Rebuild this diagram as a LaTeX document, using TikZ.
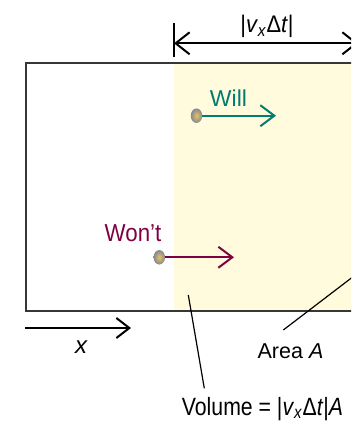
\documentclass[tikz,border=0pt]{standalone}
\usepackage{fontspec}
\setmainfont{Liberation Sans}
\newfontfamily\condA[FakeStretch=0.85]{Liberation Sans}
\newfontfamily\condB[FakeStretch=0.91]{Liberation Sans}
\usetikzlibrary{arrows.meta,shapes.geometric}
\definecolor{cream}{RGB}{255,251,220}
\definecolor{willc}{RGB}{0,124,112}
\definecolor{wontc}{RGB}{128,0,66}
\definecolor{edgec}{RGB}{55,55,55}
\definecolor{ballin}{RGB}{228,198,92}
\definecolor{ballout}{RGB}{135,135,150}
\tikzset{
  lab/.style={inner sep=0pt, anchor=base, font=\fontsize{21}{25}\selectfont},
  particle/.style={ellipse, minimum width=11.5pt, minimum height=14.5pt, inner sep=0pt, inner color=ballin, outer color=ballout},
  barb/.style={-{Straight Barb[length=14pt,width=21pt,line width=2pt]}},
  pointer/.style={line width=1.2pt, black},
}
\begin{document}
\begin{tikzpicture}[x=1pt,y=-1pt]
\clip (0,0) rectangle (351,422);
% slab
\fill[cream] (174,63.3) rectangle (365,310.7);
\draw[edgec, line width=1.6pt] (26,63.3) rectangle (365,310.7);
% dimension
\coordinate (dl) at (174,43.3);
\coordinate (dr) at (358,43.3);
\coordinate (tt) at (174,23);
\coordinate (tb) at (174,57);
\draw[line width=1.5pt] (tt) -- (tb);
\draw[line width=2pt, {Straight Barb[length=14pt,width=22pt,line width=2pt]}-{Straight Barb[length=14pt,width=22pt,line width=2pt]}] (dl) -- (dr);
\node[lab, font=\condB\fontsize{24}{28}\selectfont] (dim) at (267,33) {|\textit{v}\textsubscript{\textit{x}}Δ\textit{t}|};
% will particle
\node[particle] (wb) at (196.5,115.7) {};
\coordinate (wt) at (276,115.7);
\draw[willc, line width=2pt, barb] (wb.east) -- (wt);
\node[lab, text=willc, font=\fontsize{23}{27}\selectfont] (will) at (228.5,107) {Will};
% won't particle
\node[particle] (nb) at (159.3,257.3) {};
\coordinate (nt) at (234,257.3);
\draw[wontc, line width=2pt, barb] (nb.east) -- (nt);
\node[lab, text=wontc, font=\condB\fontsize{24.5}{28}\selectfont] (wont) at (133,241.7) {Won’t};
% x axis
\coordinate (xa) at (25,328);
\coordinate (xb) at (131,328);
\draw[line width=2pt, -{Straight Barb[length=13pt,width=20pt,line width=2pt]}] (xa) -- (xb);
\node[lab, font=\fontsize{24}{28}\selectfont\itshape] (xl) at (81,353) {x};
% area
\node[lab, font=\fontsize{21.5}{25}\selectfont] (area) at (290.5,358) {Area \textit{A}};
\coordinate (as) at (283.3,330);
\coordinate (ae) at (371,263);
\draw[pointer] (as) -- (ae);
% volume
\node[lab, font=\condA\fontsize{25}{30}\selectfont] (vol) at (262.5,415) {Volume = |\textit{v}\textsubscript{\textit{x}}Δ\textit{t}|\textit{A}};
\coordinate (vs) at (188.3,295);
\coordinate (ve) at (204.3,388.3);
\draw[pointer] (vs) -- (ve);
\end{tikzpicture}
\end{document}
